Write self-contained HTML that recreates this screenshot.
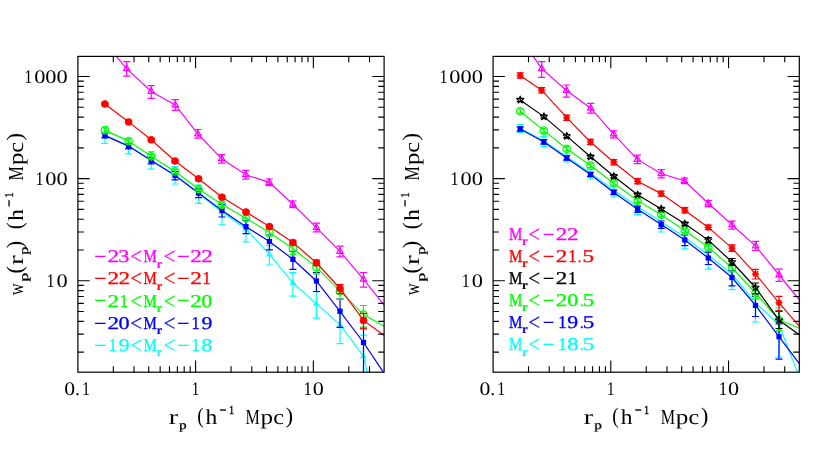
<!DOCTYPE html>
<html><head><meta charset="utf-8"><title>wp(rp)</title>
<style>html,body{margin:0;padding:0;background:#fff;}svg{display:block;will-change:transform;}</style>
</head><body>
<svg width="830" height="454" viewBox="0 0 830 454" font-family="'Liberation Serif', serif" text-rendering="geometricPrecision">
<rect width="830" height="454" fill="#fff"/>
<defs><clipPath id="cl"><rect x="77.9" y="56.4" width="306.20000000000005" height="315.8"/></clipPath><clipPath id="cr"><rect x="493.1" y="56.4" width="306.20000000000005" height="315.8"/></clipPath></defs>
<g clip-path="url(#cl)" stroke="#00ffff" fill="none" stroke-width="1.2">
<polyline points="104.9,135.0 128.6,146.0 151.2,160.3 175.0,175.0 198.6,193.5 222.0,212.0 246.0,229.0 269.4,254.4 292.9,282.8 316.4,303.9 340.0,324.6 363.5,356.2 371.0,388.0"/>
<path d="M104.9 127.2V143.4M101.4 127.2h7.0M101.4 143.4h7.0M128.6 139.0V153.8M125.1 139.0h7.0M125.1 153.8h7.0M151.2 151.7V169.2M147.7 151.7h7.0M147.7 169.2h7.0M175.0 166.5V184.0M171.5 166.5h7.0M171.5 184.0h7.0M198.6 185.0V203.3M195.1 185.0h7.0M195.1 203.3h7.0M222.0 201.0V224.8M218.5 201.0h7.0M218.5 224.8h7.0M246.0 218.0V241.8M242.5 218.0h7.0M242.5 241.8h7.0M269.4 245.6V265.0M265.9 245.6h7.0M265.9 265.0h7.0M292.9 272.7V296.1M289.4 272.7h7.0M289.4 296.1h7.0M316.4 291.5V318.1M312.9 291.5h7.0M312.9 318.1h7.0M340.0 310.0V343.7M336.5 310.0h7.0M336.5 343.7h7.0M363.5 335.1V395.0M360.0 335.1h7.0M360.0 395.0h7.0"/>
<polygon points="104.90,131.40 106.16,134.28 108.02,136.80 104.90,136.45 101.78,136.80 103.64,134.28" fill="#00ffff" stroke="#00ffff" stroke-width="0.5"/>
<polygon points="128.60,142.40 129.86,145.28 131.72,147.80 128.60,147.45 125.48,147.80 127.34,145.28" fill="#00ffff" stroke="#00ffff" stroke-width="0.5"/>
<polygon points="151.20,156.70 152.46,159.58 154.32,162.10 151.20,161.75 148.08,162.10 149.94,159.58" fill="#00ffff" stroke="#00ffff" stroke-width="0.5"/>
<polygon points="175.00,171.40 176.26,174.28 178.12,176.80 175.00,176.45 171.88,176.80 173.74,174.28" fill="#00ffff" stroke="#00ffff" stroke-width="0.5"/>
<polygon points="198.60,189.90 199.86,192.78 201.72,195.30 198.60,194.95 195.48,195.30 197.34,192.78" fill="#00ffff" stroke="#00ffff" stroke-width="0.5"/>
<polygon points="222.00,208.40 223.26,211.28 225.12,213.80 222.00,213.45 218.88,213.80 220.74,211.28" fill="#00ffff" stroke="#00ffff" stroke-width="0.5"/>
<polygon points="246.00,225.40 247.26,228.28 249.12,230.80 246.00,230.45 242.88,230.80 244.74,228.28" fill="#00ffff" stroke="#00ffff" stroke-width="0.5"/>
<polygon points="269.40,250.80 270.66,253.68 272.52,256.20 269.40,255.85 266.28,256.20 268.14,253.68" fill="#00ffff" stroke="#00ffff" stroke-width="0.5"/>
<polygon points="292.90,279.20 294.16,282.07 296.02,284.60 292.90,284.25 289.78,284.60 291.64,282.07" fill="#00ffff" stroke="#00ffff" stroke-width="0.5"/>
<polygon points="316.40,300.30 317.66,303.17 319.52,305.70 316.40,305.35 313.28,305.70 315.14,303.17" fill="#00ffff" stroke="#00ffff" stroke-width="0.5"/>
<polygon points="340.00,321.00 341.26,323.88 343.12,326.40 340.00,326.05 336.88,326.40 338.74,323.88" fill="#00ffff" stroke="#00ffff" stroke-width="0.5"/>
<polygon points="363.50,352.60 364.76,355.47 366.62,358.00 363.50,357.65 360.38,358.00 362.24,355.47" fill="#00ffff" stroke="#00ffff" stroke-width="0.5"/>
</g>
<g clip-path="url(#cl)" stroke="#0000ff" fill="none" stroke-width="1.2">
<polyline points="104.9,135.6 128.6,146.1 151.2,160.5 175.0,175.5 198.6,193.1 222.0,210.4 246.0,226.7 269.4,241.5 292.9,259.3 316.4,281.0 340.0,311.3 363.5,342.5 383.5,372.4"/>
<path d="M104.9 133.4V137.8M101.4 133.4h7.0M101.4 137.8h7.0M128.6 143.6V148.8M125.1 143.6h7.0M125.1 148.8h7.0M151.2 157.4V163.8M147.7 157.4h7.0M147.7 163.8h7.0M175.0 171.5V179.8M171.5 171.5h7.0M171.5 179.8h7.0M198.6 188.8V197.7M195.1 188.8h7.0M195.1 197.7h7.0M222.0 204.5V217.0M218.5 204.5h7.0M218.5 217.0h7.0M246.0 220.5V233.6M242.5 220.5h7.0M242.5 233.6h7.0M269.4 235.2V249.8M265.9 235.2h7.0M265.9 249.8h7.0M292.9 251.4V269.3M289.4 251.4h7.0M289.4 269.3h7.0M316.4 272.7V291.5M312.9 272.7h7.0M312.9 291.5h7.0M340.0 299.0V327.4M336.5 299.0h7.0M336.5 327.4h7.0M363.5 328.0V380.0M360.0 328.0h7.0M360.0 380.0h7.0"/>
<rect x="102.30" y="133.00" width="5.2" height="5.2" fill="#0000ff" stroke="none"/>
<rect x="126.00" y="143.50" width="5.2" height="5.2" fill="#0000ff" stroke="none"/>
<rect x="148.60" y="157.90" width="5.2" height="5.2" fill="#0000ff" stroke="none"/>
<rect x="172.40" y="172.90" width="5.2" height="5.2" fill="#0000ff" stroke="none"/>
<rect x="196.00" y="190.50" width="5.2" height="5.2" fill="#0000ff" stroke="none"/>
<rect x="219.40" y="207.80" width="5.2" height="5.2" fill="#0000ff" stroke="none"/>
<rect x="243.40" y="224.10" width="5.2" height="5.2" fill="#0000ff" stroke="none"/>
<rect x="266.80" y="238.90" width="5.2" height="5.2" fill="#0000ff" stroke="none"/>
<rect x="290.30" y="256.70" width="5.2" height="5.2" fill="#0000ff" stroke="none"/>
<rect x="313.80" y="278.40" width="5.2" height="5.2" fill="#0000ff" stroke="none"/>
<rect x="337.40" y="308.70" width="5.2" height="5.2" fill="#0000ff" stroke="none"/>
<rect x="360.90" y="339.90" width="5.2" height="5.2" fill="#0000ff" stroke="none"/>
</g>
<g clip-path="url(#cl)" stroke="#00ff00" fill="none" stroke-width="1.2">
<polyline points="104.9,130.1 128.6,141.1 151.2,156.3 175.0,171.4 198.6,188.9 222.0,204.6 246.0,218.2 269.4,232.6 292.9,248.6 316.4,267.1 340.0,291.2 363.5,314.6 384.2,326.2"/>
<path d="M104.9 128.1V132.1M102.4 128.1h5.0M102.4 132.1h5.0M128.6 139.1V143.1M126.1 139.1h5.0M126.1 143.1h5.0M151.2 154.3V158.3M148.7 154.3h5.0M148.7 158.3h5.0M175.0 169.4V173.4M172.5 169.4h5.0M172.5 173.4h5.0M198.6 186.9V190.9M196.1 186.9h5.0M196.1 190.9h5.0M222.0 202.6V206.6M219.5 202.6h5.0M219.5 206.6h5.0M246.0 215.6V221.0M243.5 215.6h5.0M243.5 221.0h5.0M269.4 229.6V236.0M265.9 229.6h7.0M265.9 236.0h7.0M292.9 243.5V254.4M289.4 243.5h7.0M289.4 254.4h7.0M316.4 261.0V274.0M312.9 261.0h7.0M312.9 274.0h7.0M340.0 284.9V299.4M336.5 284.9h7.0M336.5 299.4h7.0M363.5 305.5V327.0M360.0 305.5h7.0M360.0 327.0h7.0"/>
<circle cx="104.90" cy="130.10" r="3.7" fill="none" stroke="#00ff00" stroke-width="1.25"/>
<circle cx="128.60" cy="141.10" r="3.7" fill="none" stroke="#00ff00" stroke-width="1.25"/>
<circle cx="151.20" cy="156.30" r="3.7" fill="none" stroke="#00ff00" stroke-width="1.25"/>
<circle cx="175.00" cy="171.40" r="3.7" fill="none" stroke="#00ff00" stroke-width="1.25"/>
<circle cx="198.60" cy="188.90" r="3.7" fill="none" stroke="#00ff00" stroke-width="1.25"/>
<circle cx="222.00" cy="204.60" r="3.7" fill="none" stroke="#00ff00" stroke-width="1.25"/>
<circle cx="246.00" cy="218.20" r="3.7" fill="none" stroke="#00ff00" stroke-width="1.25"/>
<circle cx="269.40" cy="232.60" r="3.7" fill="none" stroke="#00ff00" stroke-width="1.25"/>
<circle cx="292.90" cy="248.60" r="3.7" fill="none" stroke="#00ff00" stroke-width="1.25"/>
<circle cx="316.40" cy="267.10" r="3.7" fill="none" stroke="#00ff00" stroke-width="1.25"/>
<circle cx="340.00" cy="291.20" r="3.7" fill="none" stroke="#00ff00" stroke-width="1.25"/>
<circle cx="363.50" cy="314.60" r="3.7" fill="none" stroke="#00ff00" stroke-width="1.25"/>
</g>
<g clip-path="url(#cl)" stroke="#ff0000" fill="none" stroke-width="1.2">
<polyline points="104.9,104.0 128.6,121.9 151.2,139.8 175.0,161.0 198.6,178.7 222.0,197.2 246.0,212.0 269.4,226.6 292.9,242.5 316.4,262.8 340.0,288.5 363.5,320.4 384.2,335.4"/>
<path d="M104.9 102.8V105.2M101.4 102.8h7.0M101.4 105.2h7.0M128.6 120.7V123.1M125.1 120.7h7.0M125.1 123.1h7.0M151.2 138.6V141.0M147.7 138.6h7.0M147.7 141.0h7.0M175.0 159.8V162.2M171.5 159.8h7.0M171.5 162.2h7.0M198.6 177.5V179.9M195.1 177.5h7.0M195.1 179.9h7.0M222.0 196.0V198.4M218.5 196.0h7.0M218.5 198.4h7.0M246.0 210.8V213.2M242.5 210.8h7.0M242.5 213.2h7.0M269.4 225.4V227.8M265.9 225.4h7.0M265.9 227.8h7.0M292.9 240.3V244.8M289.4 240.3h7.0M289.4 244.8h7.0M316.4 260.0V265.6M312.9 260.0h7.0M312.9 265.6h7.0M340.0 284.5V293.6M336.5 284.5h7.0M336.5 293.6h7.0M363.5 313.3V328.8M360.0 313.3h7.0M360.0 328.8h7.0"/>
<circle cx="104.90" cy="104.00" r="3.5" fill="#ff0000" stroke="#ff0000" stroke-width="0.6"/>
<circle cx="128.60" cy="121.90" r="3.5" fill="#ff0000" stroke="#ff0000" stroke-width="0.6"/>
<circle cx="151.20" cy="139.80" r="3.5" fill="#ff0000" stroke="#ff0000" stroke-width="0.6"/>
<circle cx="175.00" cy="161.00" r="3.5" fill="#ff0000" stroke="#ff0000" stroke-width="0.6"/>
<circle cx="198.60" cy="178.70" r="3.5" fill="#ff0000" stroke="#ff0000" stroke-width="0.6"/>
<circle cx="222.00" cy="197.20" r="3.5" fill="#ff0000" stroke="#ff0000" stroke-width="0.6"/>
<circle cx="246.00" cy="212.00" r="3.5" fill="#ff0000" stroke="#ff0000" stroke-width="0.6"/>
<circle cx="269.40" cy="226.60" r="3.5" fill="#ff0000" stroke="#ff0000" stroke-width="0.6"/>
<circle cx="292.90" cy="242.50" r="3.5" fill="#ff0000" stroke="#ff0000" stroke-width="0.6"/>
<circle cx="316.40" cy="262.80" r="3.5" fill="#ff0000" stroke="#ff0000" stroke-width="0.6"/>
<circle cx="340.00" cy="288.50" r="3.5" fill="#ff0000" stroke="#ff0000" stroke-width="0.6"/>
<circle cx="363.50" cy="320.40" r="3.5" fill="#ff0000" stroke="#ff0000" stroke-width="0.6"/>
</g>
<g clip-path="url(#cl)" stroke="#ff00ff" fill="none" stroke-width="1.2">
<polyline points="104.9,43.0 126.7,68.7 151.2,91.4 175.2,105.0 197.9,134.0 221.7,158.8 245.8,174.7 269.2,182.4 292.9,204.3 316.4,227.6 340.0,251.4 363.5,279.3 384.2,305.2"/>
<path d="M104.9 38.0V48.0M101.3 38.0h7.2M101.3 48.0h7.2M126.7 61.6V76.1M123.1 61.6h7.2M123.1 76.1h7.2M151.2 85.6V98.3M147.6 85.6h7.2M147.6 98.3h7.2M175.2 99.6V110.3M171.6 99.6h7.2M171.6 110.3h7.2M197.9 129.5V138.1M194.3 129.5h7.2M194.3 138.1h7.2M221.7 154.6V163.2M218.1 154.6h7.2M218.1 163.2h7.2M245.8 170.3V179.1M242.2 170.3h7.2M242.2 179.1h7.2M269.2 179.0V185.7M265.6 179.0h7.2M265.6 185.7h7.2M292.9 201.0V207.6M289.3 201.0h7.2M289.3 207.6h7.2M316.4 223.2V231.9M312.8 223.2h7.2M312.8 231.9h7.2M340.0 246.1V256.8M336.4 246.1h7.2M336.4 256.8h7.2M363.5 272.5V287.2M359.9 272.5h7.2M359.9 287.2h7.2"/>
<polygon points="104.90,39.25 101.65,44.88 108.15,44.88" fill="none" stroke="#ff00ff" stroke-width="1.2" stroke-linejoin="round"/>
<polygon points="126.70,64.95 123.45,70.58 129.95,70.58" fill="none" stroke="#ff00ff" stroke-width="1.2" stroke-linejoin="round"/>
<polygon points="151.20,87.65 147.95,93.28 154.45,93.28" fill="none" stroke="#ff00ff" stroke-width="1.2" stroke-linejoin="round"/>
<polygon points="175.20,101.25 171.95,106.88 178.45,106.88" fill="none" stroke="#ff00ff" stroke-width="1.2" stroke-linejoin="round"/>
<polygon points="197.90,130.25 194.65,135.88 201.15,135.88" fill="none" stroke="#ff00ff" stroke-width="1.2" stroke-linejoin="round"/>
<polygon points="221.70,155.05 218.45,160.68 224.95,160.68" fill="none" stroke="#ff00ff" stroke-width="1.2" stroke-linejoin="round"/>
<polygon points="245.80,170.95 242.55,176.57 249.05,176.57" fill="none" stroke="#ff00ff" stroke-width="1.2" stroke-linejoin="round"/>
<polygon points="269.20,178.65 265.95,184.28 272.45,184.28" fill="none" stroke="#ff00ff" stroke-width="1.2" stroke-linejoin="round"/>
<polygon points="292.90,200.55 289.65,206.18 296.15,206.18" fill="none" stroke="#ff00ff" stroke-width="1.2" stroke-linejoin="round"/>
<polygon points="316.40,223.85 313.15,229.47 319.65,229.47" fill="none" stroke="#ff00ff" stroke-width="1.2" stroke-linejoin="round"/>
<polygon points="340.00,247.65 336.75,253.28 343.25,253.28" fill="none" stroke="#ff00ff" stroke-width="1.2" stroke-linejoin="round"/>
<polygon points="363.50,275.55 360.25,281.18 366.75,281.18" fill="none" stroke="#ff00ff" stroke-width="1.2" stroke-linejoin="round"/>
</g>
<g clip-path="url(#cr)" stroke="#00ffff" fill="none" stroke-width="1.2">
<polyline points="520.2,128.4 543.9,141.1 566.7,156.8 590.5,172.9 613.8,190.2 637.6,206.6 661.2,221.8 684.8,237.2 708.3,255.0 732.0,274.3 755.5,302.9 779.0,324.6 797.4,372.4"/>
<path d="M520.2 124.5V132.3M516.7 124.5h7.0M516.7 132.3h7.0M543.9 136.7V146.3M540.4 136.7h7.0M540.4 146.3h7.0M566.7 153.8V162.0M563.2 153.8h7.0M563.2 162.0h7.0M590.5 169.5V179.0M587.0 169.5h7.0M587.0 179.0h7.0M613.8 186.0V197.0M610.3 186.0h7.0M610.3 197.0h7.0M637.6 202.0V214.7M634.1 202.0h7.0M634.1 214.7h7.0M661.2 216.0V232.0M657.7 216.0h7.0M657.7 232.0h7.0M684.8 230.0V248.9M681.3 230.0h7.0M681.3 248.9h7.0M708.3 246.0V269.1M704.8 246.0h7.0M704.8 269.1h7.0M732.0 264.0V289.7M728.5 264.0h7.0M728.5 289.7h7.0M755.5 290.0V322.0M752.0 290.0h7.0M752.0 322.0h7.0M779.0 307.9V357.0M775.5 307.9h7.0M775.5 357.0h7.0"/>
<polygon points="520.20,125.00 521.46,127.88 523.32,130.40 520.20,130.05 517.08,130.40 518.94,127.88" fill="#00ffff" stroke="#00ffff" stroke-width="0.5"/>
<polygon points="543.90,138.00 545.16,140.88 547.02,143.40 543.90,143.05 540.78,143.40 542.64,140.88" fill="#00ffff" stroke="#00ffff" stroke-width="0.5"/>
<polygon points="566.70,154.20 567.96,157.08 569.82,159.60 566.70,159.25 563.58,159.60 565.44,157.08" fill="#00ffff" stroke="#00ffff" stroke-width="0.5"/>
<polygon points="590.50,170.70 591.76,173.58 593.62,176.10 590.50,175.75 587.38,176.10 589.24,173.58" fill="#00ffff" stroke="#00ffff" stroke-width="0.5"/>
<polygon points="613.80,188.40 615.06,191.28 616.92,193.80 613.80,193.45 610.68,193.80 612.54,191.28" fill="#00ffff" stroke="#00ffff" stroke-width="0.5"/>
<polygon points="637.60,205.00 638.86,207.88 640.72,210.40 637.60,210.05 634.48,210.40 636.34,207.88" fill="#00ffff" stroke="#00ffff" stroke-width="0.5"/>
<polygon points="661.20,220.40 662.46,223.28 664.32,225.80 661.20,225.45 658.08,225.80 659.94,223.28" fill="#00ffff" stroke="#00ffff" stroke-width="0.5"/>
<polygon points="684.80,235.80 686.06,238.68 687.92,241.20 684.80,240.85 681.68,241.20 683.54,238.68" fill="#00ffff" stroke="#00ffff" stroke-width="0.5"/>
<polygon points="708.30,254.00 709.56,256.88 711.42,259.40 708.30,259.05 705.18,259.40 707.04,256.88" fill="#00ffff" stroke="#00ffff" stroke-width="0.5"/>
<polygon points="732.00,273.40 733.26,276.27 735.12,278.80 732.00,278.45 728.88,278.80 730.74,276.27" fill="#00ffff" stroke="#00ffff" stroke-width="0.5"/>
<polygon points="755.50,301.90 756.76,304.77 758.62,307.30 755.50,306.95 752.38,307.30 754.24,304.77" fill="#00ffff" stroke="#00ffff" stroke-width="0.5"/>
<polygon points="779.00,326.40 780.26,329.27 782.12,331.80 779.00,331.45 775.88,331.80 777.74,329.27" fill="#00ffff" stroke="#00ffff" stroke-width="0.5"/>
</g>
<g clip-path="url(#cr)" stroke="#0000ff" fill="none" stroke-width="1.2">
<polyline points="520.2,129.0 543.9,141.9 566.7,157.9 590.5,174.5 613.8,192.4 637.6,209.2 661.2,224.6 684.8,240.0 708.3,258.0 732.0,277.5 755.5,305.4 779.0,336.7 799.3,363.6"/>
<path d="M520.2 126.8V131.2M516.7 126.8h7.0M516.7 131.2h7.0M543.9 139.7V144.1M540.4 139.7h7.0M540.4 144.1h7.0M566.7 155.7V160.1M563.2 155.7h7.0M563.2 160.1h7.0M590.5 172.3V176.7M587.0 172.3h7.0M587.0 176.7h7.0M613.8 190.2V194.6M610.3 190.2h7.0M610.3 194.6h7.0M637.6 206.2V212.4M634.1 206.2h7.0M634.1 212.4h7.0M661.2 221.0V228.4M657.7 221.0h7.0M657.7 228.4h7.0M684.8 235.0V245.6M681.3 235.0h7.0M681.3 245.6h7.0M708.3 252.2V264.5M704.8 252.2h7.0M704.8 264.5h7.0M732.0 270.5V285.8M728.5 270.5h7.0M728.5 285.8h7.0M755.5 296.3V316.5M752.0 296.3h7.0M752.0 316.5h7.0M779.0 324.0V359.2M775.5 324.0h7.0M775.5 359.2h7.0"/>
<rect x="517.60" y="126.40" width="5.2" height="5.2" fill="#0000ff" stroke="none"/>
<rect x="541.30" y="139.30" width="5.2" height="5.2" fill="#0000ff" stroke="none"/>
<rect x="564.10" y="155.30" width="5.2" height="5.2" fill="#0000ff" stroke="none"/>
<rect x="587.90" y="171.90" width="5.2" height="5.2" fill="#0000ff" stroke="none"/>
<rect x="611.20" y="189.80" width="5.2" height="5.2" fill="#0000ff" stroke="none"/>
<rect x="635.00" y="206.60" width="5.2" height="5.2" fill="#0000ff" stroke="none"/>
<rect x="658.60" y="222.00" width="5.2" height="5.2" fill="#0000ff" stroke="none"/>
<rect x="682.20" y="237.40" width="5.2" height="5.2" fill="#0000ff" stroke="none"/>
<rect x="705.70" y="255.40" width="5.2" height="5.2" fill="#0000ff" stroke="none"/>
<rect x="729.40" y="274.90" width="5.2" height="5.2" fill="#0000ff" stroke="none"/>
<rect x="752.90" y="302.80" width="5.2" height="5.2" fill="#0000ff" stroke="none"/>
<rect x="776.40" y="334.10" width="5.2" height="5.2" fill="#0000ff" stroke="none"/>
</g>
<g clip-path="url(#cr)" stroke="#00ff00" fill="none" stroke-width="1.2">
<polyline points="520.2,111.3 543.9,130.6 566.7,148.8 590.5,165.4 613.8,183.2 637.6,200.6 661.2,214.7 684.8,230.6 708.3,247.2 732.0,267.8 755.5,293.0 779.0,320.0 799.3,328.0"/>
<path d="M520.2 109.2V113.4M517.7 109.2h5.0M517.7 113.4h5.0M543.9 128.5V132.7M541.4 128.5h5.0M541.4 132.7h5.0M566.7 146.7V150.9M564.2 146.7h5.0M564.2 150.9h5.0M590.5 163.3V167.5M588.0 163.3h5.0M588.0 167.5h5.0M613.8 181.1V185.3M611.3 181.1h5.0M611.3 185.3h5.0M637.6 198.5V202.7M635.1 198.5h5.0M635.1 202.7h5.0M661.2 212.6V216.8M658.7 212.6h5.0M658.7 216.8h5.0M684.8 228.5V232.7M682.3 228.5h5.0M682.3 232.7h5.0M708.3 244.4V250.0M705.8 244.4h5.0M705.8 250.0h5.0M732.0 264.0V271.6M728.5 264.0h7.0M728.5 271.6h7.0M755.5 288.0V298.8M752.0 288.0h7.0M752.0 298.8h7.0M779.0 310.7V330.6M775.5 310.7h7.0M775.5 330.6h7.0"/>
<circle cx="520.20" cy="111.30" r="3.7" fill="none" stroke="#00ff00" stroke-width="1.25"/>
<circle cx="543.90" cy="130.60" r="3.7" fill="none" stroke="#00ff00" stroke-width="1.25"/>
<circle cx="566.70" cy="148.80" r="3.7" fill="none" stroke="#00ff00" stroke-width="1.25"/>
<circle cx="590.50" cy="165.40" r="3.7" fill="none" stroke="#00ff00" stroke-width="1.25"/>
<circle cx="613.80" cy="183.20" r="3.7" fill="none" stroke="#00ff00" stroke-width="1.25"/>
<circle cx="637.60" cy="200.60" r="3.7" fill="none" stroke="#00ff00" stroke-width="1.25"/>
<circle cx="661.20" cy="214.70" r="3.7" fill="none" stroke="#00ff00" stroke-width="1.25"/>
<circle cx="684.80" cy="230.60" r="3.7" fill="none" stroke="#00ff00" stroke-width="1.25"/>
<circle cx="708.30" cy="247.20" r="3.7" fill="none" stroke="#00ff00" stroke-width="1.25"/>
<circle cx="732.00" cy="267.80" r="3.7" fill="none" stroke="#00ff00" stroke-width="1.25"/>
<circle cx="755.50" cy="293.00" r="3.7" fill="none" stroke="#00ff00" stroke-width="1.25"/>
<circle cx="779.00" cy="320.00" r="3.7" fill="none" stroke="#00ff00" stroke-width="1.25"/>
</g>
<g clip-path="url(#cr)" stroke="#000000" fill="none" stroke-width="1.2">
<polyline points="520.2,99.9 543.9,116.6 566.7,136.1 590.5,156.8 613.8,176.3 637.6,194.8 661.2,208.9 684.8,223.8 708.3,240.1 732.0,262.0 755.5,287.5 779.0,320.2 799.3,334.7"/>
<path d="M520.2 98.3V101.5M516.7 98.3h7.0M516.7 101.5h7.0M543.9 115.0V118.2M540.4 115.0h7.0M540.4 118.2h7.0M566.7 134.5V137.7M563.2 134.5h7.0M563.2 137.7h7.0M590.5 155.2V158.4M587.0 155.2h7.0M587.0 158.4h7.0M613.8 174.7V177.9M610.3 174.7h7.0M610.3 177.9h7.0M637.6 193.2V196.4M634.1 193.2h7.0M634.1 196.4h7.0M661.2 207.3V210.5M657.7 207.3h7.0M657.7 210.5h7.0M684.8 222.2V225.4M681.3 222.2h7.0M681.3 225.4h7.0M708.3 237.6V242.6M704.8 237.6h7.0M704.8 242.6h7.0M732.0 258.5V265.3M728.5 258.5h7.0M728.5 265.3h7.0M755.5 283.0V293.8M752.0 283.0h7.0M752.0 293.8h7.0M779.0 311.4V328.5M775.5 311.4h7.0M775.5 328.5h7.0"/>
<polygon points="520.20,96.10 521.14,98.61 523.81,98.73 521.72,100.39 522.43,102.97 520.20,101.50 517.97,102.97 518.68,100.39 516.59,98.73 519.26,98.61" fill="none" stroke="#000000" stroke-width="1.1" stroke-linejoin="round"/>
<polygon points="543.90,112.80 544.84,115.31 547.51,115.43 545.42,117.09 546.13,119.67 543.90,118.20 541.67,119.67 542.38,117.09 540.29,115.43 542.96,115.31" fill="none" stroke="#000000" stroke-width="1.1" stroke-linejoin="round"/>
<polygon points="566.70,132.30 567.64,134.81 570.31,134.93 568.22,136.59 568.93,139.17 566.70,137.70 564.47,139.17 565.18,136.59 563.09,134.93 565.76,134.81" fill="none" stroke="#000000" stroke-width="1.1" stroke-linejoin="round"/>
<polygon points="590.50,153.00 591.44,155.51 594.11,155.63 592.02,157.29 592.73,159.87 590.50,158.40 588.27,159.87 588.98,157.29 586.89,155.63 589.56,155.51" fill="none" stroke="#000000" stroke-width="1.1" stroke-linejoin="round"/>
<polygon points="613.80,172.50 614.74,175.01 617.41,175.13 615.32,176.79 616.03,179.37 613.80,177.90 611.57,179.37 612.28,176.79 610.19,175.13 612.86,175.01" fill="none" stroke="#000000" stroke-width="1.1" stroke-linejoin="round"/>
<polygon points="637.60,191.00 638.54,193.51 641.21,193.63 639.12,195.29 639.83,197.87 637.60,196.40 635.37,197.87 636.08,195.29 633.99,193.63 636.66,193.51" fill="none" stroke="#000000" stroke-width="1.1" stroke-linejoin="round"/>
<polygon points="661.20,205.10 662.14,207.61 664.81,207.73 662.72,209.39 663.43,211.97 661.20,210.50 658.97,211.97 659.68,209.39 657.59,207.73 660.26,207.61" fill="none" stroke="#000000" stroke-width="1.1" stroke-linejoin="round"/>
<polygon points="684.80,220.00 685.74,222.51 688.41,222.63 686.32,224.29 687.03,226.87 684.80,225.40 682.57,226.87 683.28,224.29 681.19,222.63 683.86,222.51" fill="none" stroke="#000000" stroke-width="1.1" stroke-linejoin="round"/>
<polygon points="708.30,236.30 709.24,238.81 711.91,238.93 709.82,240.59 710.53,243.17 708.30,241.70 706.07,243.17 706.78,240.59 704.69,238.93 707.36,238.81" fill="none" stroke="#000000" stroke-width="1.1" stroke-linejoin="round"/>
<polygon points="732.00,258.20 732.94,260.71 735.61,260.83 733.52,262.49 734.23,265.07 732.00,263.60 729.77,265.07 730.48,262.49 728.39,260.83 731.06,260.71" fill="none" stroke="#000000" stroke-width="1.1" stroke-linejoin="round"/>
<polygon points="755.50,283.70 756.44,286.21 759.11,286.33 757.02,287.99 757.73,290.57 755.50,289.10 753.27,290.57 753.98,287.99 751.89,286.33 754.56,286.21" fill="none" stroke="#000000" stroke-width="1.1" stroke-linejoin="round"/>
<polygon points="779.00,316.40 779.94,318.91 782.61,319.03 780.52,320.69 781.23,323.27 779.00,321.80 776.77,323.27 777.48,320.69 775.39,319.03 778.06,318.91" fill="none" stroke="#000000" stroke-width="1.1" stroke-linejoin="round"/>
</g>
<g clip-path="url(#cr)" stroke="#ff0000" fill="none" stroke-width="1.2">
<polyline points="520.2,75.5 541.7,90.2 566.7,117.7 590.5,142.0 613.8,162.2 637.6,181.2 661.2,193.6 684.8,210.3 708.3,227.4 732.0,248.1 755.5,273.9 779.0,302.8 799.5,326.4"/>
<path d="M520.2 72.9V78.1M516.7 72.9h7.0M516.7 78.1h7.0M541.7 87.6V92.8M538.2 87.6h7.0M538.2 92.8h7.0M566.7 115.1V120.3M563.2 115.1h7.0M563.2 120.3h7.0M590.5 139.4V144.6M587.0 139.4h7.0M587.0 144.6h7.0M613.8 159.6V164.8M610.3 159.6h7.0M610.3 164.8h7.0M637.6 178.6V183.8M634.1 178.6h7.0M634.1 183.8h7.0M661.2 191.0V196.2M657.7 191.0h7.0M657.7 196.2h7.0M684.8 207.7V212.9M681.3 207.7h7.0M681.3 212.9h7.0M708.3 225.2V229.6M704.8 225.2h7.0M704.8 229.6h7.0M732.0 244.8V251.4M728.5 244.8h7.0M728.5 251.4h7.0M755.5 269.3V279.0M752.0 269.3h7.0M752.0 279.0h7.0M779.0 296.3V310.8M775.5 296.3h7.0M775.5 310.8h7.0"/>
<polygon points="520.20,71.90 521.04,73.47 522.75,72.95 522.23,74.66 523.80,75.50 522.23,76.34 522.75,78.05 521.04,77.53 520.20,79.10 519.36,77.53 517.65,78.05 518.17,76.34 516.60,75.50 518.17,74.66 517.65,72.95 519.36,73.47" fill="#ff0000" stroke="#ff0000" stroke-width="0.6"/>
<polygon points="541.70,86.60 542.54,88.17 544.25,87.65 543.73,89.36 545.30,90.20 543.73,91.04 544.25,92.75 542.54,92.23 541.70,93.80 540.86,92.23 539.15,92.75 539.67,91.04 538.10,90.20 539.67,89.36 539.15,87.65 540.86,88.17" fill="#ff0000" stroke="#ff0000" stroke-width="0.6"/>
<polygon points="566.70,114.10 567.54,115.67 569.25,115.15 568.73,116.86 570.30,117.70 568.73,118.54 569.25,120.25 567.54,119.73 566.70,121.30 565.86,119.73 564.15,120.25 564.67,118.54 563.10,117.70 564.67,116.86 564.15,115.15 565.86,115.67" fill="#ff0000" stroke="#ff0000" stroke-width="0.6"/>
<polygon points="590.50,138.40 591.34,139.97 593.05,139.45 592.53,141.16 594.10,142.00 592.53,142.84 593.05,144.55 591.34,144.03 590.50,145.60 589.66,144.03 587.95,144.55 588.47,142.84 586.90,142.00 588.47,141.16 587.95,139.45 589.66,139.97" fill="#ff0000" stroke="#ff0000" stroke-width="0.6"/>
<polygon points="613.80,158.60 614.64,160.17 616.35,159.65 615.83,161.36 617.40,162.20 615.83,163.04 616.35,164.75 614.64,164.23 613.80,165.80 612.96,164.23 611.25,164.75 611.77,163.04 610.20,162.20 611.77,161.36 611.25,159.65 612.96,160.17" fill="#ff0000" stroke="#ff0000" stroke-width="0.6"/>
<polygon points="637.60,177.60 638.44,179.17 640.15,178.65 639.63,180.36 641.20,181.20 639.63,182.04 640.15,183.75 638.44,183.23 637.60,184.80 636.76,183.23 635.05,183.75 635.57,182.04 634.00,181.20 635.57,180.36 635.05,178.65 636.76,179.17" fill="#ff0000" stroke="#ff0000" stroke-width="0.6"/>
<polygon points="661.20,190.00 662.04,191.57 663.75,191.05 663.23,192.76 664.80,193.60 663.23,194.44 663.75,196.15 662.04,195.63 661.20,197.20 660.36,195.63 658.65,196.15 659.17,194.44 657.60,193.60 659.17,192.76 658.65,191.05 660.36,191.57" fill="#ff0000" stroke="#ff0000" stroke-width="0.6"/>
<polygon points="684.80,206.70 685.64,208.27 687.35,207.75 686.83,209.46 688.40,210.30 686.83,211.14 687.35,212.85 685.64,212.33 684.80,213.90 683.96,212.33 682.25,212.85 682.77,211.14 681.20,210.30 682.77,209.46 682.25,207.75 683.96,208.27" fill="#ff0000" stroke="#ff0000" stroke-width="0.6"/>
<polygon points="708.30,223.80 709.14,225.37 710.85,224.85 710.33,226.56 711.90,227.40 710.33,228.24 710.85,229.95 709.14,229.43 708.30,231.00 707.46,229.43 705.75,229.95 706.27,228.24 704.70,227.40 706.27,226.56 705.75,224.85 707.46,225.37" fill="#ff0000" stroke="#ff0000" stroke-width="0.6"/>
<polygon points="732.00,244.50 732.84,246.07 734.55,245.55 734.03,247.26 735.60,248.10 734.03,248.94 734.55,250.65 732.84,250.13 732.00,251.70 731.16,250.13 729.45,250.65 729.97,248.94 728.40,248.10 729.97,247.26 729.45,245.55 731.16,246.07" fill="#ff0000" stroke="#ff0000" stroke-width="0.6"/>
<polygon points="755.50,270.30 756.34,271.87 758.05,271.35 757.53,273.06 759.10,273.90 757.53,274.74 758.05,276.45 756.34,275.93 755.50,277.50 754.66,275.93 752.95,276.45 753.47,274.74 751.90,273.90 753.47,273.06 752.95,271.35 754.66,271.87" fill="#ff0000" stroke="#ff0000" stroke-width="0.6"/>
<polygon points="779.00,299.20 779.84,300.77 781.55,300.25 781.03,301.96 782.60,302.80 781.03,303.64 781.55,305.35 779.84,304.83 779.00,306.40 778.16,304.83 776.45,305.35 776.97,303.64 775.40,302.80 776.97,301.96 776.45,300.25 778.16,300.77" fill="#ff0000" stroke="#ff0000" stroke-width="0.6"/>
</g>
<g clip-path="url(#cr)" stroke="#ff00ff" fill="none" stroke-width="1.2">
<polyline points="520.2,37.7 541.7,68.7 566.5,90.5 590.7,108.2 613.6,134.1 637.4,159.4 661.3,173.7 684.4,180.8 708.3,203.3 732.0,224.8 755.7,246.1 779.1,275.0 799.5,300.0"/>
<path d="M520.2 33.0V43.0M516.6 33.0h7.2M516.6 43.0h7.2M541.7 61.6V77.3M538.1 61.6h7.2M538.1 77.3h7.2M566.5 85.0V97.1M562.9 85.0h7.2M562.9 97.1h7.2M590.7 103.4V113.1M587.1 103.4h7.2M587.1 113.1h7.2M613.6 130.8V137.9M610.0 130.8h7.2M610.0 137.9h7.2M637.4 155.1V163.6M633.8 155.1h7.2M633.8 163.6h7.2M661.3 169.7V177.9M657.7 169.7h7.2M657.7 177.9h7.2M684.4 178.2V183.6M680.8 178.2h7.2M680.8 183.6h7.2M708.3 200.5V206.6M704.7 200.5h7.2M704.7 206.6h7.2M732.0 221.2V229.1M728.4 221.2h7.2M728.4 229.1h7.2M755.7 241.4V250.5M752.1 241.4h7.2M752.1 250.5h7.2M779.1 269.2V281.3M775.5 269.2h7.2M775.5 281.3h7.2"/>
<polygon points="520.20,33.95 516.95,39.58 523.45,39.58" fill="none" stroke="#ff00ff" stroke-width="1.2" stroke-linejoin="round"/>
<polygon points="541.70,64.95 538.45,70.58 544.95,70.58" fill="none" stroke="#ff00ff" stroke-width="1.2" stroke-linejoin="round"/>
<polygon points="566.50,86.75 563.25,92.38 569.75,92.38" fill="none" stroke="#ff00ff" stroke-width="1.2" stroke-linejoin="round"/>
<polygon points="590.70,104.45 587.45,110.08 593.95,110.08" fill="none" stroke="#ff00ff" stroke-width="1.2" stroke-linejoin="round"/>
<polygon points="613.60,130.35 610.35,135.97 616.85,135.97" fill="none" stroke="#ff00ff" stroke-width="1.2" stroke-linejoin="round"/>
<polygon points="637.40,155.65 634.15,161.28 640.65,161.28" fill="none" stroke="#ff00ff" stroke-width="1.2" stroke-linejoin="round"/>
<polygon points="661.30,169.95 658.05,175.57 664.55,175.57" fill="none" stroke="#ff00ff" stroke-width="1.2" stroke-linejoin="round"/>
<polygon points="684.40,177.05 681.15,182.68 687.65,182.68" fill="none" stroke="#ff00ff" stroke-width="1.2" stroke-linejoin="round"/>
<polygon points="708.30,199.55 705.05,205.18 711.55,205.18" fill="none" stroke="#ff00ff" stroke-width="1.2" stroke-linejoin="round"/>
<polygon points="732.00,221.05 728.75,226.68 735.25,226.68" fill="none" stroke="#ff00ff" stroke-width="1.2" stroke-linejoin="round"/>
<polygon points="755.70,242.35 752.45,247.97 758.95,247.97" fill="none" stroke="#ff00ff" stroke-width="1.2" stroke-linejoin="round"/>
<polygon points="779.10,271.25 775.85,276.88 782.35,276.88" fill="none" stroke="#ff00ff" stroke-width="1.2" stroke-linejoin="round"/>
</g>
<rect x="77.90" y="56.40" width="306.20" height="315.80" fill="none" stroke="#000" stroke-width="1.2"/>
<path d="M113.30 372.2v-5.9M113.30 56.4v5.9M134.03 372.2v-5.9M134.03 56.4v5.9M148.74 372.2v-5.9M148.74 56.4v5.9M160.15 372.2v-5.9M160.15 56.4v5.9M169.48 372.2v-5.9M169.48 56.4v5.9M177.36 372.2v-5.9M177.36 56.4v5.9M184.19 372.2v-5.9M184.19 56.4v5.9M190.21 372.2v-5.9M190.21 56.4v5.9M195.60 372.2v-11.8M195.60 56.4v11.8M231.05 372.2v-5.9M231.05 56.4v5.9M251.78 372.2v-5.9M251.78 56.4v5.9M266.49 372.2v-5.9M266.49 56.4v5.9M277.90 372.2v-5.9M277.90 56.4v5.9M287.23 372.2v-5.9M287.23 56.4v5.9M295.11 372.2v-5.9M295.11 56.4v5.9M301.94 372.2v-5.9M301.94 56.4v5.9M307.96 372.2v-5.9M307.96 56.4v5.9M313.35 372.2v-11.8M313.35 56.4v11.8M348.80 372.2v-5.9M348.80 56.4v5.9M369.53 372.2v-5.9M369.53 56.4v5.9M77.90 352.15h5.9M384.10 352.15h-5.9M77.90 334.16h5.9M384.10 334.16h-5.9M77.90 321.40h5.9M384.10 321.40h-5.9M77.90 311.50h5.9M384.10 311.50h-5.9M77.90 303.41h5.9M384.10 303.41h-5.9M77.90 296.57h5.9M384.10 296.57h-5.9M77.90 290.65h5.9M384.10 290.65h-5.9M77.90 285.42h5.9M384.10 285.42h-5.9M77.90 280.75h11.8M384.10 280.75h-11.8M77.90 250.00h5.9M384.10 250.00h-5.9M77.90 232.01h5.9M384.10 232.01h-5.9M77.90 219.25h5.9M384.10 219.25h-5.9M77.90 209.35h5.9M384.10 209.35h-5.9M77.90 201.26h5.9M384.10 201.26h-5.9M77.90 194.42h5.9M384.10 194.42h-5.9M77.90 188.50h5.9M384.10 188.50h-5.9M77.90 183.27h5.9M384.10 183.27h-5.9M77.90 178.60h11.8M384.10 178.60h-11.8M77.90 147.85h5.9M384.10 147.85h-5.9M77.90 129.86h5.9M384.10 129.86h-5.9M77.90 117.10h5.9M384.10 117.10h-5.9M77.90 107.20h5.9M384.10 107.20h-5.9M77.90 99.11h5.9M384.10 99.11h-5.9M77.90 92.27h5.9M384.10 92.27h-5.9M77.90 86.35h5.9M384.10 86.35h-5.9M77.90 81.12h5.9M384.10 81.12h-5.9M77.90 76.45h11.8M384.10 76.45h-11.8" fill="none" stroke="#000" stroke-width="1.10"/>
<text transform="matrix(1.1670 0 0 1.0000 56.45 82.75)" font-size="19.2" fill="#000">0</text>
<text transform="matrix(1.1670 0 0 1.0000 45.30 82.75)" font-size="19.2" fill="#000">0</text>
<text transform="matrix(1.1670 0 0 1.0000 34.15 82.75)" font-size="19.2" fill="#000">0</text>
<text transform="matrix(0.8434 0 0 1.0000 24.27 82.75)" font-size="19.2" fill="#000">1</text>
<text transform="matrix(1.1670 0 0 1.0000 56.45 184.90)" font-size="19.2" fill="#000">0</text>
<text transform="matrix(1.1670 0 0 1.0000 45.30 184.90)" font-size="19.2" fill="#000">0</text>
<text transform="matrix(0.8434 0 0 1.0000 35.42 184.90)" font-size="19.2" fill="#000">1</text>
<text transform="matrix(1.1670 0 0 1.0000 56.45 287.05)" font-size="19.2" fill="#000">0</text>
<text transform="matrix(0.8434 0 0 1.0000 46.57 287.05)" font-size="19.2" fill="#000">1</text>
<text transform="matrix(1.1301 0 0 1.0000 64.18 394.70)" font-size="19.2" fill="#000">0</text>
<text transform="matrix(0.9269 0 0 1.0000 75.33 394.70)" font-size="19.2" fill="#000">.</text>
<text transform="matrix(0.8286 0 0 1.0000 82.00 394.70)" font-size="19.2" fill="#000">1</text>
<text transform="matrix(0.7842 0 0 1.0000 191.78 394.70)" font-size="19.2" fill="#000">1</text>
<text transform="matrix(0.8730 0 0 1.0000 303.52 394.70)" font-size="19.2" fill="#000">1</text>
<text transform="matrix(1.1547 0 0 1.0000 312.76 394.70)" font-size="19.2" fill="#000">0</text>
<text transform="matrix(1.3066 0 0 1.0000 168.64 423.80)" font-size="21.4" fill="#000">r</text>
<text transform="matrix(1.2525 0 0 1.0000 179.06 429.10)" font-size="12.2" fill="#000" stroke="#000" stroke-width="0.266">p</text>
<text transform="matrix(0.9091 0 0 1.0510 197.14 422.81)" font-size="21.4" fill="#000">(</text>
<text transform="matrix(1.0972 0 0 1.0000 205.47 423.80)" font-size="21.4" fill="#000">h</text>
<text transform="matrix(0.9449 0 0 1.8182 219.48 417.77)" font-size="13.2" fill="#000" stroke="#000" stroke-width="0.072">−</text>
<text transform="matrix(0.7748 0 0 0.9183 228.90 413.70)" font-size="13.2" fill="#000" stroke="#000" stroke-width="0.354">1</text>
<text transform="matrix(0.7535 0 0 1.0000 245.53 423.80)" font-size="21.4" fill="#000">M</text>
<text transform="matrix(1.1761 0 0 1.0000 260.60 423.80)" font-size="21.4" fill="#000">p</text>
<text transform="matrix(1.1215 0 0 1.0000 273.29 423.80)" font-size="21.4" fill="#000">c</text>
<text transform="matrix(1.0728 0 0 1.0510 285.47 422.81)" font-size="21.4" fill="#000">)</text>
<g transform="translate(23.00 295.3) rotate(-90)">
<text transform="matrix(0.7625 0 0 1.0000 0.08 0.00)" font-size="21.4" fill="#000">w</text>
<text transform="matrix(1.4183 0 0 1.0000 13.72 5.30)" font-size="12.2" fill="#000" stroke="#000" stroke-width="0.248">p</text>
<text transform="matrix(1.0546 0 0 1.0510 21.81 -0.99)" font-size="21.4" fill="#000">(</text>
<text transform="matrix(1.3527 0 0 1.0000 30.22 0.00)" font-size="21.4" fill="#000">r</text>
<text transform="matrix(1.3262 0 0 1.0000 40.54 5.30)" font-size="12.2" fill="#000" stroke="#000" stroke-width="0.258">p</text>
<text transform="matrix(1.0364 0 0 1.0510 47.09 -0.99)" font-size="21.4" fill="#000">)</text>
<text transform="matrix(0.9819 0 0 1.0510 66.08 -0.99)" font-size="21.4" fill="#000">(</text>
<text transform="matrix(1.0776 0 0 1.0000 74.67 0.00)" font-size="21.4" fill="#000">h</text>
<text transform="matrix(0.9775 0 0 1.8182 88.35 -6.03)" font-size="13.2" fill="#000" stroke="#000" stroke-width="0.072">−</text>
<text transform="matrix(0.8178 0 0 0.9183 97.65 -10.10)" font-size="13.2" fill="#000" stroke="#000" stroke-width="0.346">1</text>
<text transform="matrix(0.7479 0 0 1.0000 114.84 0.00)" font-size="21.4" fill="#000">M</text>
<text transform="matrix(1.1551 0 0 1.0000 130.30 0.00)" font-size="21.4" fill="#000">p</text>
<text transform="matrix(1.1464 0 0 1.0000 142.67 0.00)" font-size="21.4" fill="#000">c</text>
<text transform="matrix(1.0909 0 0 1.0510 154.45 -0.99)" font-size="21.4" fill="#000">)</text>
</g>
<rect x="493.10" y="56.40" width="306.20" height="315.80" fill="none" stroke="#000" stroke-width="1.2"/>
<path d="M528.50 372.2v-5.9M528.50 56.4v5.9M549.23 372.2v-5.9M549.23 56.4v5.9M563.94 372.2v-5.9M563.94 56.4v5.9M575.35 372.2v-5.9M575.35 56.4v5.9M584.68 372.2v-5.9M584.68 56.4v5.9M592.56 372.2v-5.9M592.56 56.4v5.9M599.39 372.2v-5.9M599.39 56.4v5.9M605.41 372.2v-5.9M605.41 56.4v5.9M610.80 372.2v-11.8M610.80 56.4v11.8M646.25 372.2v-5.9M646.25 56.4v5.9M666.98 372.2v-5.9M666.98 56.4v5.9M681.69 372.2v-5.9M681.69 56.4v5.9M693.10 372.2v-5.9M693.10 56.4v5.9M702.43 372.2v-5.9M702.43 56.4v5.9M710.31 372.2v-5.9M710.31 56.4v5.9M717.14 372.2v-5.9M717.14 56.4v5.9M723.16 372.2v-5.9M723.16 56.4v5.9M728.55 372.2v-11.8M728.55 56.4v11.8M764.00 372.2v-5.9M764.00 56.4v5.9M784.73 372.2v-5.9M784.73 56.4v5.9M493.10 352.15h5.9M799.30 352.15h-5.9M493.10 334.16h5.9M799.30 334.16h-5.9M493.10 321.40h5.9M799.30 321.40h-5.9M493.10 311.50h5.9M799.30 311.50h-5.9M493.10 303.41h5.9M799.30 303.41h-5.9M493.10 296.57h5.9M799.30 296.57h-5.9M493.10 290.65h5.9M799.30 290.65h-5.9M493.10 285.42h5.9M799.30 285.42h-5.9M493.10 280.75h11.8M799.30 280.75h-11.8M493.10 250.00h5.9M799.30 250.00h-5.9M493.10 232.01h5.9M799.30 232.01h-5.9M493.10 219.25h5.9M799.30 219.25h-5.9M493.10 209.35h5.9M799.30 209.35h-5.9M493.10 201.26h5.9M799.30 201.26h-5.9M493.10 194.42h5.9M799.30 194.42h-5.9M493.10 188.50h5.9M799.30 188.50h-5.9M493.10 183.27h5.9M799.30 183.27h-5.9M493.10 178.60h11.8M799.30 178.60h-11.8M493.10 147.85h5.9M799.30 147.85h-5.9M493.10 129.86h5.9M799.30 129.86h-5.9M493.10 117.10h5.9M799.30 117.10h-5.9M493.10 107.20h5.9M799.30 107.20h-5.9M493.10 99.11h5.9M799.30 99.11h-5.9M493.10 92.27h5.9M799.30 92.27h-5.9M493.10 86.35h5.9M799.30 86.35h-5.9M493.10 81.12h5.9M799.30 81.12h-5.9M493.10 76.45h11.8M799.30 76.45h-11.8" fill="none" stroke="#000" stroke-width="1.10"/>
<text transform="matrix(1.1670 0 0 1.0000 471.65 82.75)" font-size="19.2" fill="#000">0</text>
<text transform="matrix(1.1670 0 0 1.0000 460.50 82.75)" font-size="19.2" fill="#000">0</text>
<text transform="matrix(1.1670 0 0 1.0000 449.35 82.75)" font-size="19.2" fill="#000">0</text>
<text transform="matrix(0.8434 0 0 1.0000 439.47 82.75)" font-size="19.2" fill="#000">1</text>
<text transform="matrix(1.1670 0 0 1.0000 471.65 184.90)" font-size="19.2" fill="#000">0</text>
<text transform="matrix(1.1670 0 0 1.0000 460.50 184.90)" font-size="19.2" fill="#000">0</text>
<text transform="matrix(0.8434 0 0 1.0000 450.62 184.90)" font-size="19.2" fill="#000">1</text>
<text transform="matrix(1.1670 0 0 1.0000 471.65 287.05)" font-size="19.2" fill="#000">0</text>
<text transform="matrix(0.8434 0 0 1.0000 461.77 287.05)" font-size="19.2" fill="#000">1</text>
<text transform="matrix(1.1301 0 0 1.0000 479.38 394.70)" font-size="19.2" fill="#000">0</text>
<text transform="matrix(0.9269 0 0 1.0000 490.53 394.70)" font-size="19.2" fill="#000">.</text>
<text transform="matrix(0.8286 0 0 1.0000 497.20 394.70)" font-size="19.2" fill="#000">1</text>
<text transform="matrix(0.7842 0 0 1.0000 606.97 394.70)" font-size="19.2" fill="#000">1</text>
<text transform="matrix(0.8730 0 0 1.0000 718.73 394.70)" font-size="19.2" fill="#000">1</text>
<text transform="matrix(1.1547 0 0 1.0000 727.96 394.70)" font-size="19.2" fill="#000">0</text>
<text transform="matrix(1.3066 0 0 1.0000 583.84 423.80)" font-size="21.4" fill="#000">r</text>
<text transform="matrix(1.2525 0 0 1.0000 594.26 429.10)" font-size="12.2" fill="#000" stroke="#000" stroke-width="0.266">p</text>
<text transform="matrix(0.9091 0 0 1.0510 612.34 422.81)" font-size="21.4" fill="#000">(</text>
<text transform="matrix(1.0972 0 0 1.0000 620.67 423.80)" font-size="21.4" fill="#000">h</text>
<text transform="matrix(0.9449 0 0 1.8182 634.68 417.77)" font-size="13.2" fill="#000" stroke="#000" stroke-width="0.072">−</text>
<text transform="matrix(0.7748 0 0 0.9183 644.10 413.70)" font-size="13.2" fill="#000" stroke="#000" stroke-width="0.354">1</text>
<text transform="matrix(0.7535 0 0 1.0000 660.73 423.80)" font-size="21.4" fill="#000">M</text>
<text transform="matrix(1.1761 0 0 1.0000 675.80 423.80)" font-size="21.4" fill="#000">p</text>
<text transform="matrix(1.1215 0 0 1.0000 688.49 423.80)" font-size="21.4" fill="#000">c</text>
<text transform="matrix(1.0728 0 0 1.0510 700.67 422.81)" font-size="21.4" fill="#000">)</text>
<g transform="translate(419.40 295.3) rotate(-90)">
<text transform="matrix(0.7625 0 0 1.0000 0.08 0.00)" font-size="21.4" fill="#000">w</text>
<text transform="matrix(1.4183 0 0 1.0000 13.72 5.30)" font-size="12.2" fill="#000" stroke="#000" stroke-width="0.248">p</text>
<text transform="matrix(1.0546 0 0 1.0510 21.81 -0.99)" font-size="21.4" fill="#000">(</text>
<text transform="matrix(1.3527 0 0 1.0000 30.22 0.00)" font-size="21.4" fill="#000">r</text>
<text transform="matrix(1.3262 0 0 1.0000 40.54 5.30)" font-size="12.2" fill="#000" stroke="#000" stroke-width="0.258">p</text>
<text transform="matrix(1.0364 0 0 1.0510 47.09 -0.99)" font-size="21.4" fill="#000">)</text>
<text transform="matrix(0.9819 0 0 1.0510 66.08 -0.99)" font-size="21.4" fill="#000">(</text>
<text transform="matrix(1.0776 0 0 1.0000 74.67 0.00)" font-size="21.4" fill="#000">h</text>
<text transform="matrix(0.9775 0 0 1.8182 88.35 -6.03)" font-size="13.2" fill="#000" stroke="#000" stroke-width="0.072">−</text>
<text transform="matrix(0.8178 0 0 0.9183 97.65 -10.10)" font-size="13.2" fill="#000" stroke="#000" stroke-width="0.346">1</text>
<text transform="matrix(0.7479 0 0 1.0000 114.84 0.00)" font-size="21.4" fill="#000">M</text>
<text transform="matrix(1.1551 0 0 1.0000 130.30 0.00)" font-size="21.4" fill="#000">p</text>
<text transform="matrix(1.1464 0 0 1.0000 142.67 0.00)" font-size="21.4" fill="#000">c</text>
<text transform="matrix(1.0909 0 0 1.0510 154.45 -0.99)" font-size="21.4" fill="#000">)</text>
</g>
<text transform="matrix(1.2425 0 0 1.4444 93.88 265.18)" font-size="18.0" fill="#ff00ff" stroke="#ff00ff" stroke-width="0.112">−</text>
<text transform="matrix(1.2884 0 0 1.0000 107.38 262.30)" font-size="18.0" fill="#ff00ff" stroke="#ff00ff" stroke-width="0.315">2</text>
<text transform="matrix(1.2376 0 0 1.0000 118.33 262.30)" font-size="18.0" fill="#ff00ff" stroke="#ff00ff" stroke-width="0.322">3</text>
<text transform="matrix(1.1828 0 0 1.3112 130.24 264.35)" font-size="18.0" fill="#ff00ff" stroke="#ff00ff" stroke-width="0.096">&lt;</text>
<text transform="matrix(0.8290 0 0 1.0000 143.57 262.30)" font-size="18.0" fill="#ff00ff" stroke="#ff00ff" stroke-width="0.394">M</text>
<text transform="matrix(0.9845 0 0 1.0000 156.67 267.50)" font-size="12.6" fill="#ff00ff" stroke="#ff00ff" stroke-width="0.151" font-weight="bold">r</text>
<text transform="matrix(1.1947 0 0 1.3112 163.42 264.35)" font-size="18.0" fill="#ff00ff" stroke="#ff00ff" stroke-width="0.096">&lt;</text>
<text transform="matrix(1.2425 0 0 1.4444 176.88 265.18)" font-size="18.0" fill="#ff00ff" stroke="#ff00ff" stroke-width="0.112">−</text>
<text transform="matrix(1.2884 0 0 1.0000 190.18 262.30)" font-size="18.0" fill="#ff00ff" stroke="#ff00ff" stroke-width="0.315">2</text>
<text transform="matrix(1.2884 0 0 1.0000 201.18 262.30)" font-size="18.0" fill="#ff00ff" stroke="#ff00ff" stroke-width="0.315">2</text>
<text transform="matrix(1.2425 0 0 1.4444 93.88 287.30)" font-size="18.0" fill="#ff0000" stroke="#ff0000" stroke-width="0.112">−</text>
<text transform="matrix(1.2884 0 0 1.0000 107.38 284.42)" font-size="18.0" fill="#ff0000" stroke="#ff0000" stroke-width="0.315">2</text>
<text transform="matrix(1.2884 0 0 1.0000 118.38 284.42)" font-size="18.0" fill="#ff0000" stroke="#ff0000" stroke-width="0.315">2</text>
<text transform="matrix(1.1828 0 0 1.3112 130.24 286.47)" font-size="18.0" fill="#ff0000" stroke="#ff0000" stroke-width="0.096">&lt;</text>
<text transform="matrix(0.8290 0 0 1.0000 143.57 284.42)" font-size="18.0" fill="#ff0000" stroke="#ff0000" stroke-width="0.394">M</text>
<text transform="matrix(0.9845 0 0 1.0000 156.67 289.62)" font-size="12.6" fill="#ff0000" stroke="#ff0000" stroke-width="0.151" font-weight="bold">r</text>
<text transform="matrix(1.1947 0 0 1.3112 163.42 286.47)" font-size="18.0" fill="#ff0000" stroke="#ff0000" stroke-width="0.096">&lt;</text>
<text transform="matrix(1.2425 0 0 1.4444 176.88 287.30)" font-size="18.0" fill="#ff0000" stroke="#ff0000" stroke-width="0.112">−</text>
<text transform="matrix(1.2884 0 0 1.0000 190.18 284.42)" font-size="18.0" fill="#ff0000" stroke="#ff0000" stroke-width="0.315">2</text>
<text transform="matrix(0.9154 0 0 1.0000 202.45 284.42)" font-size="18.0" fill="#ff0000" stroke="#ff0000" stroke-width="0.376">1</text>
<text transform="matrix(1.2425 0 0 1.4444 93.88 309.42)" font-size="18.0" fill="#00ff00" stroke="#00ff00" stroke-width="0.112">−</text>
<text transform="matrix(1.2884 0 0 1.0000 107.38 306.54)" font-size="18.0" fill="#00ff00" stroke="#00ff00" stroke-width="0.315">2</text>
<text transform="matrix(0.9154 0 0 1.0000 119.65 306.54)" font-size="18.0" fill="#00ff00" stroke="#00ff00" stroke-width="0.376">1</text>
<text transform="matrix(1.1828 0 0 1.3112 130.24 308.59)" font-size="18.0" fill="#00ff00" stroke="#00ff00" stroke-width="0.096">&lt;</text>
<text transform="matrix(0.8290 0 0 1.0000 143.57 306.54)" font-size="18.0" fill="#00ff00" stroke="#00ff00" stroke-width="0.394">M</text>
<text transform="matrix(0.9845 0 0 1.0000 156.67 311.74)" font-size="12.6" fill="#00ff00" stroke="#00ff00" stroke-width="0.151" font-weight="bold">r</text>
<text transform="matrix(1.1947 0 0 1.3112 163.42 308.59)" font-size="18.0" fill="#00ff00" stroke="#00ff00" stroke-width="0.096">&lt;</text>
<text transform="matrix(1.2425 0 0 1.4444 176.88 309.42)" font-size="18.0" fill="#00ff00" stroke="#00ff00" stroke-width="0.112">−</text>
<text transform="matrix(1.2884 0 0 1.0000 190.18 306.54)" font-size="18.0" fill="#00ff00" stroke="#00ff00" stroke-width="0.315">2</text>
<text transform="matrix(1.2317 0 0 1.0000 201.36 306.54)" font-size="18.0" fill="#00ff00" stroke="#00ff00" stroke-width="0.323">0</text>
<text transform="matrix(1.2425 0 0 1.4444 93.88 331.54)" font-size="18.0" fill="#0000ff" stroke="#0000ff" stroke-width="0.112">−</text>
<text transform="matrix(1.2884 0 0 1.0000 107.38 328.66)" font-size="18.0" fill="#0000ff" stroke="#0000ff" stroke-width="0.315">2</text>
<text transform="matrix(1.2317 0 0 1.0000 118.56 328.66)" font-size="18.0" fill="#0000ff" stroke="#0000ff" stroke-width="0.323">0</text>
<text transform="matrix(1.1828 0 0 1.3112 130.24 330.71)" font-size="18.0" fill="#0000ff" stroke="#0000ff" stroke-width="0.096">&lt;</text>
<text transform="matrix(0.8290 0 0 1.0000 143.57 328.66)" font-size="18.0" fill="#0000ff" stroke="#0000ff" stroke-width="0.394">M</text>
<text transform="matrix(0.9845 0 0 1.0000 156.67 333.86)" font-size="12.6" fill="#0000ff" stroke="#0000ff" stroke-width="0.151" font-weight="bold">r</text>
<text transform="matrix(1.1947 0 0 1.3112 163.42 330.71)" font-size="18.0" fill="#0000ff" stroke="#0000ff" stroke-width="0.096">&lt;</text>
<text transform="matrix(1.2425 0 0 1.4444 176.88 331.54)" font-size="18.0" fill="#0000ff" stroke="#0000ff" stroke-width="0.112">−</text>
<text transform="matrix(0.9154 0 0 1.0000 191.45 328.66)" font-size="18.0" fill="#0000ff" stroke="#0000ff" stroke-width="0.376">1</text>
<text transform="matrix(1.2100 0 0 1.0000 201.50 328.66)" font-size="18.0" fill="#0000ff" stroke="#0000ff" stroke-width="0.326">9</text>
<text transform="matrix(1.2425 0 0 1.4444 93.88 353.66)" font-size="18.0" fill="#00ffff" stroke="#00ffff" stroke-width="0.112">−</text>
<text transform="matrix(0.9154 0 0 1.0000 108.65 350.78)" font-size="18.0" fill="#00ffff" stroke="#00ffff" stroke-width="0.376">1</text>
<text transform="matrix(1.2100 0 0 1.0000 118.70 350.78)" font-size="18.0" fill="#00ffff" stroke="#00ffff" stroke-width="0.326">9</text>
<text transform="matrix(1.1828 0 0 1.3112 130.24 352.83)" font-size="18.0" fill="#00ffff" stroke="#00ffff" stroke-width="0.096">&lt;</text>
<text transform="matrix(0.8290 0 0 1.0000 143.57 350.78)" font-size="18.0" fill="#00ffff" stroke="#00ffff" stroke-width="0.394">M</text>
<text transform="matrix(0.9845 0 0 1.0000 156.67 355.98)" font-size="12.6" fill="#00ffff" stroke="#00ffff" stroke-width="0.151" font-weight="bold">r</text>
<text transform="matrix(1.1947 0 0 1.3112 163.42 352.83)" font-size="18.0" fill="#00ffff" stroke="#00ffff" stroke-width="0.096">&lt;</text>
<text transform="matrix(1.2425 0 0 1.4444 176.88 353.66)" font-size="18.0" fill="#00ffff" stroke="#00ffff" stroke-width="0.112">−</text>
<text transform="matrix(0.9154 0 0 1.0000 191.45 350.78)" font-size="18.0" fill="#00ffff" stroke="#00ffff" stroke-width="0.376">1</text>
<text transform="matrix(1.2448 0 0 1.0000 201.35 350.78)" font-size="18.0" fill="#00ffff" stroke="#00ffff" stroke-width="0.321">8</text>
<text transform="matrix(0.8357 0 0 1.0000 508.96 239.80)" font-size="18.0" fill="#ff00ff" stroke="#ff00ff" stroke-width="0.392">M</text>
<text transform="matrix(1.0247 0 0 1.0000 522.05 245.00)" font-size="12.6" fill="#ff00ff" stroke="#ff00ff" stroke-width="0.148" font-weight="bold">r</text>
<text transform="matrix(1.1708 0 0 1.3112 528.25 241.85)" font-size="18.0" fill="#ff00ff" stroke="#ff00ff" stroke-width="0.097">&lt;</text>
<text transform="matrix(1.1470 0 0 1.4444 542.67 242.68)" font-size="18.0" fill="#ff00ff" stroke="#ff00ff" stroke-width="0.116">−</text>
<text transform="matrix(1.2884 0 0 1.0000 555.68 239.80)" font-size="18.0" fill="#ff00ff" stroke="#ff00ff" stroke-width="0.315">2</text>
<text transform="matrix(1.2884 0 0 1.0000 566.98 239.80)" font-size="18.0" fill="#ff00ff" stroke="#ff00ff" stroke-width="0.315">2</text>
<text transform="matrix(0.8357 0 0 1.0000 508.96 261.92)" font-size="18.0" fill="#ff0000" stroke="#ff0000" stroke-width="0.392">M</text>
<text transform="matrix(1.0247 0 0 1.0000 522.05 267.12)" font-size="12.6" fill="#ff0000" stroke="#ff0000" stroke-width="0.148" font-weight="bold">r</text>
<text transform="matrix(1.1708 0 0 1.3112 528.25 263.97)" font-size="18.0" fill="#ff0000" stroke="#ff0000" stroke-width="0.097">&lt;</text>
<text transform="matrix(1.1470 0 0 1.4444 542.67 264.80)" font-size="18.0" fill="#ff0000" stroke="#ff0000" stroke-width="0.116">−</text>
<text transform="matrix(1.2884 0 0 1.0000 555.68 261.92)" font-size="18.0" fill="#ff0000" stroke="#ff0000" stroke-width="0.315">2</text>
<text transform="matrix(0.9154 0 0 1.0000 568.15 261.92)" font-size="18.0" fill="#ff0000" stroke="#ff0000" stroke-width="0.376">1</text>
<text transform="matrix(0.8004 0 0 1.0000 577.75 261.92)" font-size="18.0" fill="#ff0000" stroke="#ff0000" stroke-width="0.222">.</text>
<text transform="matrix(1.2821 0 0 1.0000 582.46 261.92)" font-size="18.0" fill="#ff0000" stroke="#ff0000" stroke-width="0.316">5</text>
<text transform="matrix(0.8357 0 0 1.0000 508.96 284.04)" font-size="18.0" fill="#000000" stroke="#000000" stroke-width="0.392">M</text>
<text transform="matrix(1.0247 0 0 1.0000 522.05 289.24)" font-size="12.6" fill="#000000" stroke="#000000" stroke-width="0.148" font-weight="bold">r</text>
<text transform="matrix(1.1708 0 0 1.3112 528.25 286.09)" font-size="18.0" fill="#000000" stroke="#000000" stroke-width="0.097">&lt;</text>
<text transform="matrix(1.1470 0 0 1.4444 542.67 286.92)" font-size="18.0" fill="#000000" stroke="#000000" stroke-width="0.116">−</text>
<text transform="matrix(1.2884 0 0 1.0000 555.68 284.04)" font-size="18.0" fill="#000000" stroke="#000000" stroke-width="0.315">2</text>
<text transform="matrix(0.9154 0 0 1.0000 568.15 284.04)" font-size="18.0" fill="#000000" stroke="#000000" stroke-width="0.376">1</text>
<text transform="matrix(0.8357 0 0 1.0000 508.96 306.16)" font-size="18.0" fill="#00ff00" stroke="#00ff00" stroke-width="0.392">M</text>
<text transform="matrix(1.0247 0 0 1.0000 522.05 311.36)" font-size="12.6" fill="#00ff00" stroke="#00ff00" stroke-width="0.148" font-weight="bold">r</text>
<text transform="matrix(1.1708 0 0 1.3112 528.25 308.21)" font-size="18.0" fill="#00ff00" stroke="#00ff00" stroke-width="0.097">&lt;</text>
<text transform="matrix(1.1470 0 0 1.4444 542.67 309.04)" font-size="18.0" fill="#00ff00" stroke="#00ff00" stroke-width="0.116">−</text>
<text transform="matrix(1.2884 0 0 1.0000 555.68 306.16)" font-size="18.0" fill="#00ff00" stroke="#00ff00" stroke-width="0.315">2</text>
<text transform="matrix(1.2317 0 0 1.0000 567.16 306.16)" font-size="18.0" fill="#00ff00" stroke="#00ff00" stroke-width="0.323">0</text>
<text transform="matrix(0.8004 0 0 1.0000 579.95 306.16)" font-size="18.0" fill="#00ff00" stroke="#00ff00" stroke-width="0.222">.</text>
<text transform="matrix(1.2821 0 0 1.0000 582.86 306.16)" font-size="18.0" fill="#00ff00" stroke="#00ff00" stroke-width="0.316">5</text>
<text transform="matrix(0.8357 0 0 1.0000 508.96 328.28)" font-size="18.0" fill="#0000ff" stroke="#0000ff" stroke-width="0.392">M</text>
<text transform="matrix(1.0247 0 0 1.0000 522.05 333.48)" font-size="12.6" fill="#0000ff" stroke="#0000ff" stroke-width="0.148" font-weight="bold">r</text>
<text transform="matrix(1.1708 0 0 1.3112 528.25 330.33)" font-size="18.0" fill="#0000ff" stroke="#0000ff" stroke-width="0.097">&lt;</text>
<text transform="matrix(1.1470 0 0 1.4444 542.67 331.16)" font-size="18.0" fill="#0000ff" stroke="#0000ff" stroke-width="0.116">−</text>
<text transform="matrix(0.9154 0 0 1.0000 558.25 328.28)" font-size="18.0" fill="#0000ff" stroke="#0000ff" stroke-width="0.376">1</text>
<text transform="matrix(1.2100 0 0 1.0000 567.30 328.28)" font-size="18.0" fill="#0000ff" stroke="#0000ff" stroke-width="0.326">9</text>
<text transform="matrix(0.8004 0 0 1.0000 579.95 328.28)" font-size="18.0" fill="#0000ff" stroke="#0000ff" stroke-width="0.222">.</text>
<text transform="matrix(1.2821 0 0 1.0000 582.86 328.28)" font-size="18.0" fill="#0000ff" stroke="#0000ff" stroke-width="0.316">5</text>
<text transform="matrix(0.8357 0 0 1.0000 508.96 350.40)" font-size="18.0" fill="#00ffff" stroke="#00ffff" stroke-width="0.392">M</text>
<text transform="matrix(1.0247 0 0 1.0000 522.05 355.60)" font-size="12.6" fill="#00ffff" stroke="#00ffff" stroke-width="0.148" font-weight="bold">r</text>
<text transform="matrix(1.1708 0 0 1.3112 528.25 352.45)" font-size="18.0" fill="#00ffff" stroke="#00ffff" stroke-width="0.097">&lt;</text>
<text transform="matrix(1.1470 0 0 1.4444 542.67 353.28)" font-size="18.0" fill="#00ffff" stroke="#00ffff" stroke-width="0.116">−</text>
<text transform="matrix(0.9154 0 0 1.0000 558.25 350.40)" font-size="18.0" fill="#00ffff" stroke="#00ffff" stroke-width="0.376">1</text>
<text transform="matrix(1.2448 0 0 1.0000 567.15 350.40)" font-size="18.0" fill="#00ffff" stroke="#00ffff" stroke-width="0.321">8</text>
<text transform="matrix(0.8004 0 0 1.0000 579.95 350.40)" font-size="18.0" fill="#00ffff" stroke="#00ffff" stroke-width="0.222">.</text>
<text transform="matrix(1.2821 0 0 1.0000 582.86 350.40)" font-size="18.0" fill="#00ffff" stroke="#00ffff" stroke-width="0.316">5</text>
</svg>
</body></html>
